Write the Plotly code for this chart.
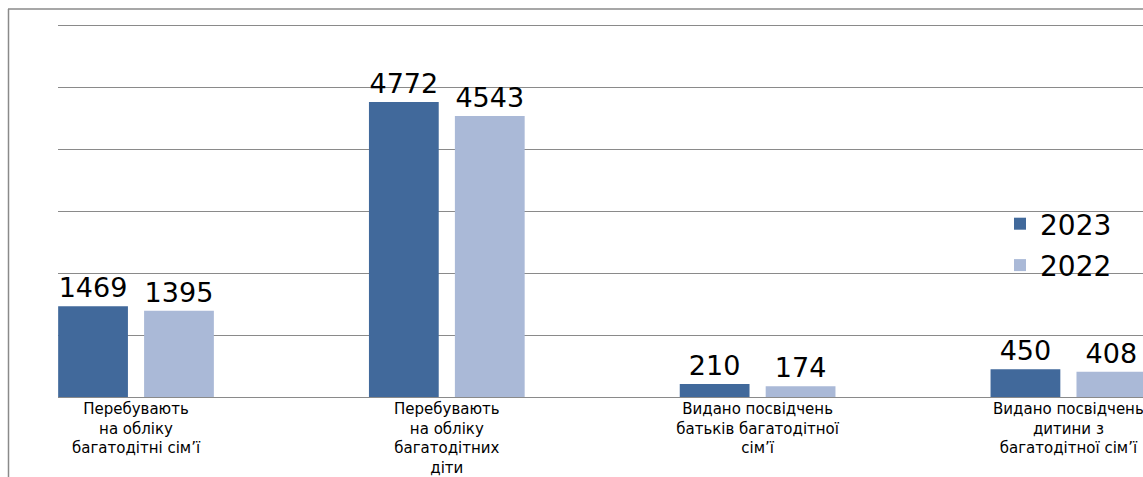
import plotly.graph_objects as go

categories = [
    "Перебувають<br>на обліку<br>багатодітні сім’ї",
    "Перебувають<br>на обліку<br>багатодітних<br>діти",
    "Видано посвідчень<br>батьків багатодітної<br>сім’ї",
    "Видано посвідчень<br>дитини з<br>багатодітної сім’ї",
]
values_2023 = [1469, 4772, 210, 450]
values_2022 = [1395, 4543, 174, 408]
series_names = ["2023", "2022"]
colors = ["#41699b", "#aab9d7"]

W, H = 1143, 477
ml, mt, mb = 58, 24, 80
plot_w = W - ml
plot_h = H - mt - mb
y_top = 6032

fig = go.Figure()
for name, vals, col in zip(series_names, [values_2023, values_2022], colors):
    fig.add_trace(go.Bar(
        name=name, x=categories, y=vals, legendgroup=name,
        marker=dict(color=col, line=dict(width=0)),
        text=[str(v) for v in vals], textposition="outside",
        textfont=dict(size=27, color="#000000", family="DejaVu Sans"),
        constraintext="none", cliponaxis=False,
    ))

# decorative chart frame (left and top border), given in window pixels
def px_x(p):
    return (p - ml) / plot_w

def px_y(p):
    return (H - mb - p) / plot_h

fig.add_shape(type="line", xref="paper", yref="paper",
              x0=px_x(8.5), x1=px_x(8.5), y0=px_y(9), y1=px_y(490),
              line=dict(color="#8a8a8a", width=1.5))
fig.add_shape(type="line", xref="paper", yref="paper",
              x0=px_x(8), x1=px_x(1160), y0=px_y(9), y1=px_y(9),
              line=dict(color="#8a8a8a", width=1.5))

fig.update_layout(
    width=W, height=H,
    margin=dict(l=ml, r=0, t=mt, b=mb, pad=0),
    paper_bgcolor="white", plot_bgcolor="white",
    barmode="group", bargap=0.447, bargroupgap=0.188,
    font=dict(family="DejaVu Sans", color="#000000"),
    legend=dict(x=px_x(1000), xanchor="left", y=px_y(199), yanchor="top",
                traceorder="grouped", tracegroupgap=2,
                font=dict(size=28, family="DejaVu Sans"),
                bgcolor="rgba(0,0,0,0)"),
    xaxis=dict(range=[-0.251, 3.240], showgrid=False, showline=False,
               ticks="", ticklabelstandoff=1, automargin=False,
               tickfont=dict(size=15, family="DejaVu Sans")),
    yaxis=dict(range=[0, y_top], dtick=1000, showticklabels=False,
               showgrid=True, gridcolor="#8a8a8a", gridwidth=1,
               zeroline=True, zerolinecolor="#8a8a8a", zerolinewidth=1,
               showline=False, automargin=False),
)

fig.write_html(
    "out.html",
    config={"displayModeBar": False},
    post_script="document.body.style.margin='0px';document.body.style.overflow='hidden';",
)
